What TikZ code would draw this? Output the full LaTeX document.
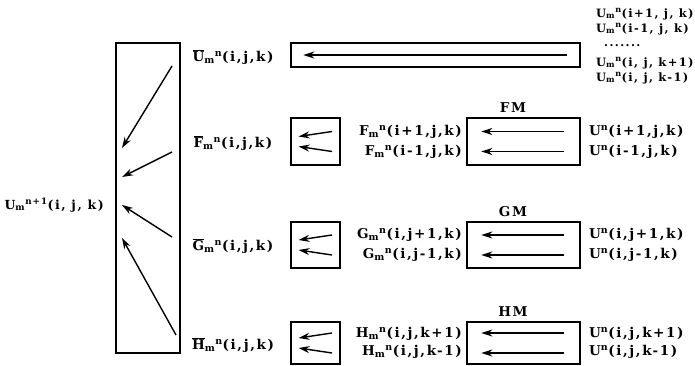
\documentclass[tikz,border=0pt]{standalone}
\usepackage{fontspec}
\setmainfont{DejaVu Serif}[LetterSpace=12]
\usetikzlibrary{arrows.meta,calc}
\newcommand{\smn}[1]{#1\textsubscript{m}\textsuperscript{n}}
\newcommand{\bsmn}[1]{$\overline{\hbox{#1}}$\textsubscript{m}\textsuperscript{n}}
\tikzset{
  box/.style={draw, line width=1.4pt, inner sep=0pt},
  lbl/.style={font=\bfseries\fontsize{13.5}{15}\selectfont, inner sep=0pt},
  lbls/.style={font=\bfseries\fontsize{12.5}{14}\selectfont, inner sep=0pt},
  sml/.style={font=\bfseries\fontsize{11.5}{13}\selectfont, inner sep=0pt},
  arr/.style={line width=1.4pt, -{Stealth[length=11pt,width=7pt]}},
}
\begin{document}
\begin{tikzpicture}[x=1pt,y=-1pt]
\useasboundingbox (0,0) rectangle (695,366);
% big box
\node[box, minimum width=64pt, minimum height=310pt] (big) at (148,198) {};
\node[lbls, anchor=east] (unp1) at (104,205) {U\textsubscript{m}\textsuperscript{n+1}(i, j, k)};
% bar labels
\node[lbl] (ubar) at (233,57) {\bsmn{U}(i,j,k)};
\node[lbl] (fbar) at (233,143) {\bsmn{F}(i,j,k)};
\node[lbl] (gbar) at (233,246) {\bsmn{G}(i,j,k)};
\node[lbl] (hbar) at (233,345) {\bsmn{H}(i,j,k)};
% arrows into big box
\coordinate (t1) at (172,66);  \coordinate (h1) at (122,148);
\coordinate (t2) at (172,152); \coordinate (h2) at (122,177);
\coordinate (t3) at (172,237); \coordinate (h3) at (122,205);
\coordinate (t4) at (176,335); \coordinate (h4) at (122,238);
\draw[arr] (t1) -- (h1);
\draw[arr] (t2) -- (h2);
\draw[arr] (t3) -- (h3);
\draw[arr] (t4) -- (h4);
% top long box
\node[box, minimum width=289pt, minimum height=24pt] (ubox) at (435.5,55) {};
\draw[arr] ($(ubox.east)+(-14,0)$) -- ($(ubox.west)+(13,0)$);
% top-right stack
\node[sml, anchor=west] (r1) at (596,14) {\smn{U}(i+1, j, k)};
\node[sml, anchor=west] (r2) at (596,29) {\smn{U}(i-1, j, k)};
\node[sml, anchor=west] (r3) at (604,46) {.......};
\node[sml, anchor=west] (r4) at (596,63) {\smn{U}(i, j, k+1)};
\node[sml, anchor=west] (r5) at (596,78) {\smn{U}(i, j, k-1)};
% small boxes
\node[box, minimum width=49pt, minimum height=47pt] (fs) at (315.5,141.5) {};
\node[box, minimum width=49pt, minimum height=46pt] (gs) at (315.5,245) {};
\node[box, minimum width=49pt, minimum height=42pt] (hs) at (315.5,343) {};
\foreach \b in {fs,gs,hs}{
  \draw[arr] ($(\b.center)+(16.5,-10)$) -- ($(\b.center)+(-17,-5)$);
  \draw[arr] ($(\b.center)+(16.5,10)$) -- ($(\b.center)+(-17,5)$);
}
% M boxes
\node[box, minimum width=113pt, minimum height=47pt] (fm) at (523.5,141.5) {};
\node[box, minimum width=113pt, minimum height=46pt] (gm) at (523.5,245) {};
\node[box, minimum width=113pt, minimum height=42pt] (hm) at (523.5,343) {};
\node[lbl] (fml) at (513,108) {FM};
\node[lbl] (gml) at (513,212) {GM};
\node[lbl] (hml) at (513,312) {HM};
\foreach \b in {fm,gm,hm}{
  \draw[arr] ($(\b.east)+(-17,-10)$) -- ($(\b.west)+(15,-10)$);
  \draw[arr] ($(\b.east)+(-17,10)$) -- ($(\b.west)+(15,10)$);
}
% row labels
\node[lbl, anchor=east] (f1) at (462,132) {\smn{F}(i+1,j,k)};
\node[lbl, anchor=east] (f2) at (462,152) {\smn{F}(i-1,j,k)};
\node[lbl, anchor=west] (u1) at (589,132) {U\textsuperscript{n}(i+1,j,k)};
\node[lbl, anchor=west] (u2) at (589,152) {U\textsuperscript{n}(i-1,j,k)};
\node[lbl, anchor=east] (g1) at (462,235) {\smn{G}(i,j+1,k)};
\node[lbl, anchor=east] (g2) at (462,255) {\smn{G}(i,j-1,k)};
\node[lbl, anchor=west] (u3) at (589,235) {U\textsuperscript{n}(i,j+1,k)};
\node[lbl, anchor=west] (u4) at (589,255) {U\textsuperscript{n}(i,j-1,k)};
\node[lbl, anchor=east] (h1l) at (462,334) {\smn{H}(i,j,k+1)};
\node[lbl, anchor=east] (h2l) at (462,352) {\smn{H}(i,j,k-1)};
\node[lbl, anchor=west] (u5) at (589,334) {U\textsuperscript{n}(i,j,k+1)};
\node[lbl, anchor=west] (u6) at (589,352) {U\textsuperscript{n}(i,j,k-1)};
\end{tikzpicture}
\end{document}
